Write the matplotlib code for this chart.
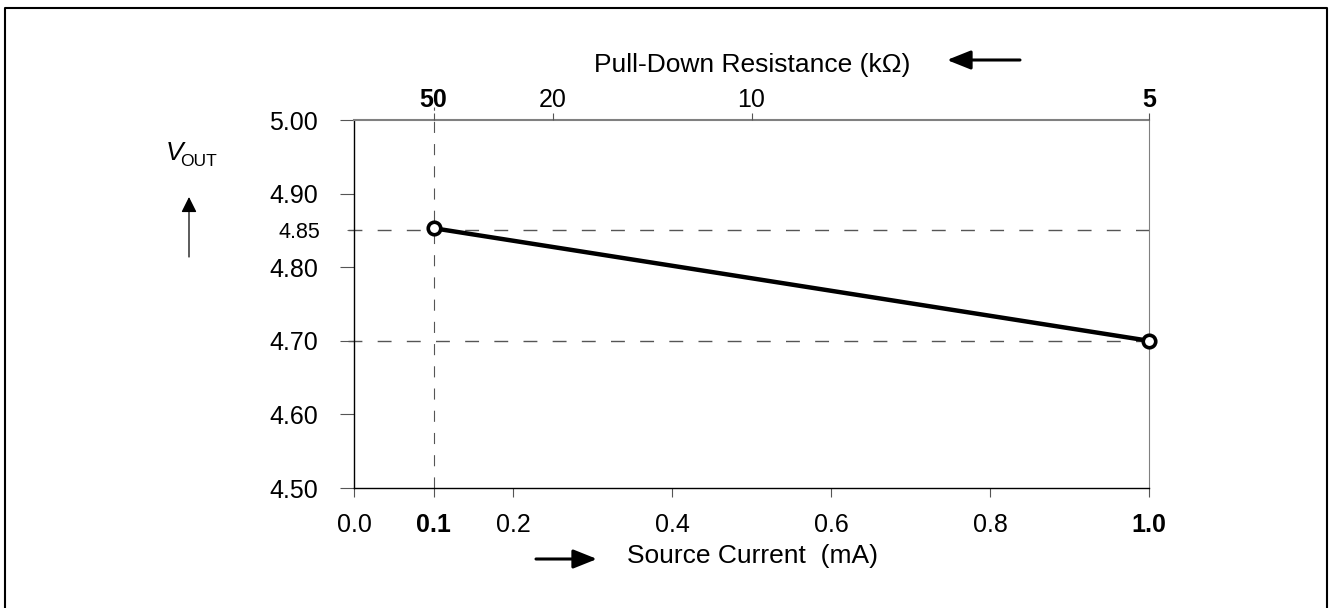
import matplotlib.pyplot as plt
from matplotlib.lines import Line2D
from matplotlib.patches import FancyArrowPatch

plt.rcParams['font.family'] = ['Liberation Sans', 'DejaVu Sans']

# measured points: source current (mA) -> output voltage (V)
current_ma = [0.1, 1.0]
vout = [4.853, 4.70]

x_ticks = [0.0, 0.1, 0.2, 0.4, 0.6, 0.8, 1.0]
x_labels = ['0.0', '0.1', '0.2', '0.4', '0.6', '0.8', '1.0']
x_bold = ['0.1', '1.0']

y_ticks = [4.50, 4.60, 4.70, 4.80, 4.90, 5.00]
y_labels = ['4.50', '4.60', '4.70', '4.80', '4.90', '5.00']
y_extra = [4.85]
y_extra_labels = ['4.85']

# pull-down resistance on the top axis, placed at I = 5 V / R
res_kohm = [50, 20, 10, 5]
res_bold = ['50', '5']

ref_levels = [4.85, 4.70]
ref_current = 0.1

W, H = 1330, 608


def fx(px):
    return px / W


def fy(py):
    return 1 - py / H


fig = plt.figure(figsize=(W / 100, H / 100), dpi=100)
ax = fig.add_axes([fx(354), fy(488), fx(1149) - fx(354), fy(120) - fy(488)])
ax.set_xlim(0, 1.0)
ax.set_ylim(4.5, 5.0)

# dashed guides
for lvl in ref_levels:
    ax.axhline(lvl, xmin=-0.007, xmax=1.016, color='#555555', lw=1.0,
               dashes=(10, 11), clip_on=False, zorder=2)
ax.axvline(ref_current, ymin=0, ymax=1.035, color='#555555', lw=0.8,
           dashes=(10, 10), clip_on=False, zorder=2)

ax.plot(current_ma, vout, color='black', lw=3.2, marker='o', ms=9,
        mfc='white', mec='black', mew=2.6, zorder=5, clip_on=False)

for side in ['left', 'bottom']:
    ax.spines[side].set_color('black')
    ax.spines[side].set_linewidth(1.0)
ax.spines['top'].set_color('#808080')
ax.spines['top'].set_linewidth(1.5)
ax.spines['right'].set_color('#808080')
ax.spines['right'].set_linewidth(0.8)

ax.set_xticks(x_ticks, x_labels)
ax.set_yticks(y_ticks, y_labels)
ax.set_yticks(y_extra, y_extra_labels, minor=True)
ax.tick_params(axis='x', which='major', direction='out', length=6.5, pad=11.5,
               labelsize=18, color='#555555')
ax.tick_params(axis='y', which='major', direction='out', length=10, pad=16,
               labelsize=18, color='#555555')
ax.tick_params(axis='y', which='minor', direction='out', length=5, pad=19,
               labelsize=15.5, color='#555555')
for lbl in ax.get_xticklabels():
    if lbl.get_text() in x_bold:
        lbl.set_fontweight('bold')

top = ax.twiny()
top.set_xlim(ax.get_xlim())
top.set_xticks([5.0 / r for r in res_kohm], [str(r) for r in res_kohm])
top.tick_params(axis='x', direction='out', length=5, pad=0.5, labelsize=18,
                color='#555555')
for s in top.spines.values():
    s.set_visible(False)
for lbl in top.get_xticklabels():
    if lbl.get_text() in res_bold:
        lbl.set_fontweight('bold')

# axis titles and direction arrows
fig.text(fx(594), fy(65), 'Pull-Down Resistance (k\u03a9)', fontsize=19,
         ha='left', va='center')
fig.text(fx(627), fy(556), 'Source Current  (mA)', fontsize=19,
         ha='left', va='center')
fig.text(fx(166), fy(153), 'V', style='italic', fontsize=19,
         ha='left', va='center')
fig.text(fx(180), fy(162), 'OUT', fontsize=12.5, ha='left', va='center')

arrows = [((1020, 60), (947, 60), 2.2, 14.4, 1.0, 0.4),
          ((536, 559), (597, 559), 2.2, 14.4, 1.0, 0.4),
          ((189, 257), (189, 197), 0.9, 9.4, 1.0, 0.5)]
for (x0, y0), (x1, y1), lw, ms, hl, hw in arrows:
    fig.add_artist(FancyArrowPatch(
        (fx(x0), fy(y0)), (fx(x1), fy(y1)), transform=fig.transFigure,
        arrowstyle=f'-|>,head_length={hl},head_width={hw}',
        mutation_scale=ms, lw=lw, color='black', shrinkA=0, shrinkB=0))

# outer frame
fig.add_artist(Line2D([fx(5), fx(5), fx(1327), fx(1327)], [0, fy(8), fy(8), 0],
                      transform=fig.transFigure, color='black', lw=1.5))

fig.savefig('out.png', dpi=100)
